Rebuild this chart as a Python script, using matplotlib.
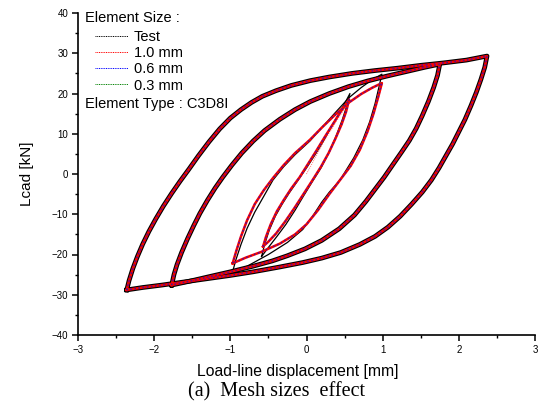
import matplotlib
matplotlib.use("Agg")
import matplotlib.pyplot as plt
from matplotlib.lines import Line2D
from matplotlib.ticker import MultipleLocator

plt.rcParams['font.family'] = ['Liberation Sans', 'DejaVu Sans']

# ---------------- data (x: mm, y: kN) ----------------
# outer two loops: test and all three meshes lie on top of each other
outer_x = [-2.36, -2.33, -2.28, -2.22, -2.15, -2.07, -1.98, -1.88, -1.77, -1.66, -1.54, -1.42, -1.28, -1.14,
           -1.00, -0.86, -0.72, -0.58, -0.40, -0.20, 0.05, 0.30, 0.60, 0.90, 1.20, 1.50, 1.80, 2.10, 2.37,
           2.34, 2.29, 2.23, 2.16, 2.08, 2.00, 1.92, 1.83, 1.74, 1.64, 1.52, 1.38, 1.23, 1.07, 0.90, 0.70,
           0.45, 0.20, -0.05, -0.35, -0.70, -1.00, -1.30, -1.60, -1.90, -2.15, -2.36]
outer_y = [-28.8, -26.5, -23.5, -20.5, -17.4, -14.3, -11.2, -8.0, -4.8, -1.8, 1.3, 4.5, 8.0, 11.2,
           13.9, 16.0, 17.8, 19.3, 20.7, 22.0, 23.2, 24.1, 25.0, 25.7, 26.3, 27.0, 27.6, 28.3, 29.3,
           26.5, 23.5, 20.3, 17.0, 13.5, 10.5, 7.5, 4.5, 1.5, -1.5, -4.5, -7.5, -10.5, -13.2, -15.5, -17.5,
           -19.5, -20.9, -22.0, -23.1, -24.3, -25.2, -26.0, -26.8, -27.6, -28.2, -28.8]

loop2_x = [-1.77, -1.74, -1.70, -1.64, -1.56, -1.48, -1.40, -1.30, -1.20, -1.10, -0.98, -0.85, -0.70,
           -0.55, -0.35, -0.15, 0.05, 0.30, 0.55, 0.80, 1.05, 1.30, 1.55, 1.75,
           1.72, 1.67, 1.60, 1.52, 1.44, 1.35, 1.25, 1.14, 1.02, 0.90, 0.78, 0.63, 0.43, 0.20,
           -0.02, -0.25, -0.45, -0.70, -1.00, -1.30, -1.55, -1.77]
loop2_y = [-27.6, -25.0, -22.5, -19.5, -16.0, -12.8, -9.8, -6.5, -3.5, -0.8, 2.2, 5.2, 8.2,
           10.8, 13.6, 16.0, 18.0, 20.0, 21.7, 23.1, 24.3, 25.4, 26.5, 27.3,
           24.5, 21.5, 18.0, 14.5, 11.3, 8.3, 5.5, 2.5, -0.8, -3.8, -6.8, -10.2, -13.6, -16.5,
           -18.6, -20.3, -21.6, -22.9, -24.3, -25.6, -26.7, -27.6]

# inner loops, test (thin black)
test3_x = [-0.98, -0.93, -0.86, -0.78, -0.68, -0.56, -0.44, -0.30, -0.15, 0.045, 0.20, 0.38, 0.56, 0.72, 0.86, 0.99,
           0.95, 0.90, 0.83, 0.74, 0.62, 0.44, 0.30, 0.20, 0.08, -0.05, -0.25, -0.50, -0.75, -0.98]
test3_y = [-25.0, -21.5, -17.5, -13.5, -9.5, -5.5, -1.5, 1.8, 4.8, 8.2, 11.5, 15.3, 19.0, 21.5, 23.4, 24.8,
           21.5, 17.5, 13.0, 8.5, 4.0, -1.5, -4.5, -7.0, -10.5, -13.8, -17.0, -20.0, -22.6, -25.0]
test4_x = [-0.59, -0.55, -0.49, -0.41, -0.32, -0.23, -0.12, 0.00, 0.12, 0.24, 0.35, 0.45, 0.52, 0.57,
           0.53, 0.47, 0.39, 0.30, 0.19, 0.08, -0.04, -0.15, -0.27, -0.38, -0.49, -0.59]
test4_y = [-20.5, -17.5, -14.0, -10.5, -7.5, -4.8, -1.8, 1.5, 5.0, 8.8, 12.5, 15.8, 18.2, 20.0,
           17.0, 13.5, 9.5, 5.5, 1.5, -1.8, -5.5, -9.0, -12.5, -15.3, -18.0, -20.5]

# inner loops, FE meshes
fe3_x = [-0.97, -0.92, -0.86, -0.78, -0.68, -0.56, -0.44, -0.30, -0.15, 0.045, 0.20, 0.38, 0.56, 0.72, 0.86, 0.99,
         0.94, 0.88, 0.80, 0.70, 0.58, 0.44, 0.30, 0.15, 0.00, -0.15, -0.35, -0.60, -0.80, -0.97]
fe3_y = [-22.2, -19.0, -15.5, -11.5, -7.5, -4.0, -1.0, 2.2, 5.2, 8.5, 11.5, 14.8, 17.8, 19.9, 21.4, 22.6,
         19.0, 15.0, 10.5, 6.0, 2.0, -1.5, -5.0, -9.0, -12.5, -15.0, -17.3, -19.4, -20.8, -22.2]
fe4_x = [-0.57, -0.53, -0.47, -0.39, -0.30, -0.20, -0.09, 0.02, 0.13, 0.24, 0.35, 0.45, 0.56,
         0.52, 0.46, 0.38, 0.29, 0.19, 0.08, -0.04, -0.16, -0.28, -0.40, -0.50, -0.57]
fe4_y = [-18.0, -15.5, -12.5, -9.3, -6.5, -3.6, -0.8, 2.5, 5.8, 9.2, 12.5, 15.5, 18.5,
         15.5, 12.3, 8.8, 5.2, 1.8, -1.5, -5.0, -8.5, -11.8, -14.8, -16.8, -18.0]

# first loading of the 1.0 mm model (faint dotted)
first_x = [0.00, 0.10, 0.20, 0.30, 0.40, 0.50, 0.56]
first_y = [0.0, 3.5, 7.0, 10.3, 13.3, 16.3, 18.4]

labels = ["Test", "1.0 mm", "0.6 mm", "0.3 mm"]
colors = ["black", "red", "blue", "green"]

# ---------------- figure ----------------
fig = plt.figure(figsize=(5.44, 4.09), dpi=100)
ax = fig.add_axes([78/544, 1-335/409, 457/544, 322/409])

# test (black band underneath)
for lx, ly in [(outer_x, outer_y), (loop2_x, loop2_y)]:
    ax.plot(lx, ly, color="black", lw=3.4, solid_joinstyle='round')
for lx, ly in [(test3_x, test3_y), (test4_x, test4_y)]:
    ax.plot(lx, ly, color="black", lw=0.9)

# meshes
for lx, ly in [(outer_x, outer_y), (loop2_x, loop2_y), (fe3_x, fe3_y), (fe4_x, fe4_y)]:
    ax.plot(lx, ly, color="red", lw=1.8, solid_joinstyle='round')
    ax.plot(lx, ly, color="blue", lw=1.2, ls=(0, (1, 1.5)), alpha=0.6)
    ax.plot(lx, ly, color="green", lw=0.6, ls=(0, (1, 3)), alpha=0.5)
ax.plot(first_x, first_y, color="red", lw=0.6, ls=(0, (1, 1.5)), alpha=0.7)

ax.set_xlim(-3, 3)
ax.set_ylim(-40, 40)
ax.xaxis.set_major_locator(MultipleLocator(1))
ax.xaxis.set_minor_locator(MultipleLocator(0.5))
ax.yaxis.set_major_locator(MultipleLocator(10))
ax.yaxis.set_minor_locator(MultipleLocator(5))
ax.spines['top'].set_visible(False)
ax.spines['right'].set_visible(False)
for s in ['left', 'bottom']:
    ax.spines[s].set_linewidth(1.2)
ax.tick_params(which='major', length=4, width=1.1, labelsize=7, pad=3)
ax.tick_params(which='minor', length=2.5, width=1.0)

ax.set_xlabel("Load-line displacement [mm]", fontsize=11.3)
ax.xaxis.set_label_coords((298-78)/457, -(364-335)/322)
ax.set_ylabel("Lcad [kN]", fontsize=11)
ax.yaxis.set_label_coords(-(78-34)/457, 0.5)

# legend
handles = [Line2D([], [], color=c, lw=0.7, ls=(0, (1, 0.8))) for c in colors]
ax.legend(handles, labels, loc='upper left', bbox_to_anchor=(0.021, 0.97), frameon=False,
          fontsize=10.5, handlelength=2.3, handletextpad=0.35, labelspacing=0.15, borderpad=0)
ax.text(0.015, 0.984, "Element Size :", transform=ax.transAxes, fontsize=10.5, va='center', ha='left')
ax.text(0.015, 0.717, "Element Type : C3D8I", transform=ax.transAxes, fontsize=10.5, va='center', ha='left')

fig.text(276/544, 1-392/409, "(a)  Mesh sizes  effect", fontsize=14.5, family='Liberation Serif',
         ha='center', va='center')

fig.savefig("out.png", dpi=100)
